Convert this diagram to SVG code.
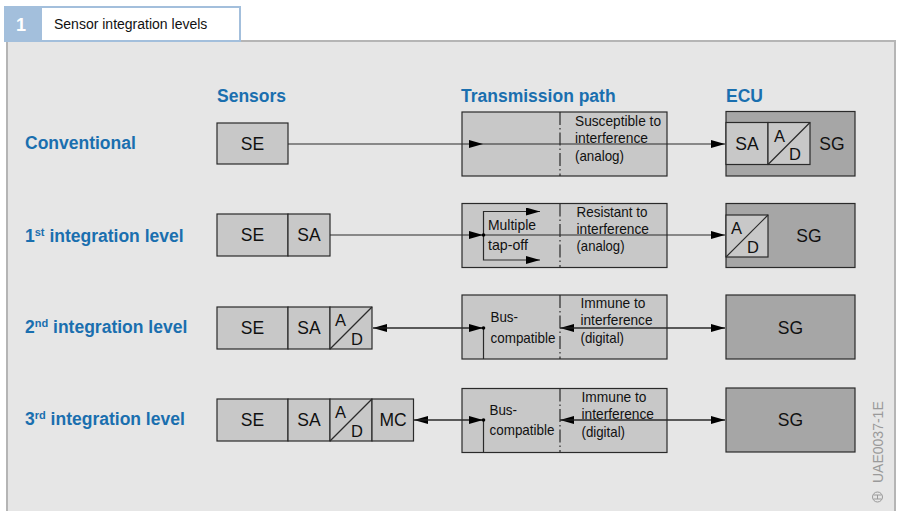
<svg xmlns="http://www.w3.org/2000/svg" width="897" height="511" viewBox="0 0 897 511">
<style>
.frame{fill:#e6e6e6;stroke:#b5b5b5;stroke-width:2}
.lt{fill:#c8c8c8;stroke:#2a2a2a;stroke-width:1.2}
.dk{fill:#a6a6a6;stroke:#2a2a2a;stroke-width:1.2}
.ln{fill:none;stroke:#2a2a2a;stroke-width:1.2}
.dd{fill:none;stroke:#2a2a2a;stroke-width:1.2;stroke-dasharray:13 3 1.5 3}
.hd{font-family:"Liberation Sans",Arial,sans-serif;font-weight:bold;font-size:17.5px;fill:#1a6faf}
.bx{font-family:"Liberation Sans",Arial,sans-serif;font-size:17.5px;fill:#111;text-anchor:middle}
.ad{font-family:"Liberation Sans",Arial,sans-serif;font-size:16.5px;fill:#111}
.cn{font-family:"Liberation Sans Narrow","Liberation Sans",Arial,sans-serif;font-size:14.5px;fill:#111}
.sup{font-size:11px}
</style>
<defs>
<marker id="arr" viewBox="0 0 14 8" refX="14" refY="4" markerWidth="14" markerHeight="8" markerUnits="userSpaceOnUse" orient="auto">
<path d="M0,0 L14,4 L0,8 z" fill="#000"/>
</marker>
</defs>

<!-- frame and header -->
<g id="frame">
<rect class="frame" x="7" y="41" width="888" height="480"/>
<rect x="4" y="6" width="36" height="36" fill="#a3bfdc"/>
<text x="21" y="31" font-family="Liberation Sans,Arial,sans-serif" font-weight="bold" font-size="18px" fill="#fff" text-anchor="middle">1</text>
<rect x="41" y="7" width="199" height="34" fill="#fff" stroke="#a3bfdc" stroke-width="2"/>
<text x="54" y="29" font-family="Liberation Sans,Arial,sans-serif" font-size="14px" fill="#111">Sensor integration levels</text>
</g>

<!-- headings -->
<g id="headings">
<text class="hd" x="217" y="102">Sensors</text>
<text class="hd" x="461" y="102">Transmission path</text>
<text class="hd" x="726" y="102">ECU</text>
<text class="hd" x="25" y="149">Conventional</text>
<text class="hd" x="25" y="241.5">1<tspan class="sup" dy="-6">st</tspan><tspan dy="6"> integration level</tspan></text>
<text class="hd" x="25" y="333">2<tspan class="sup" dy="-6">nd</tspan><tspan dy="6"> integration level</tspan></text>
<text class="hd" x="25" y="425">3<tspan class="sup" dy="-6">rd</tspan><tspan dy="6"> integration level</tspan></text>
</g>

<!-- Row 0: conventional -->
<g id="sensor0">
<rect class="lt" x="217" y="123" width="71" height="41"/>
<text class="bx" x="252.5" y="150">SE</text>
</g>
<g id="path0">
<rect class="lt" x="462" y="112" width="205" height="64"/>
<line class="dd" x1="560" y1="112" x2="560" y2="176"/>
<text class="cn" x="575" y="125.5" textLength="86" lengthAdjust="spacingAndGlyphs">Susceptible to</text>
<text class="cn" x="575" y="143" textLength="73" lengthAdjust="spacingAndGlyphs">interference</text>
<text class="cn" x="575" y="160.5" textLength="49" lengthAdjust="spacingAndGlyphs">(analog)</text>
</g>
<g id="ecu0">
<rect class="dk" x="726" y="111.5" width="129" height="64.5"/>
<rect class="lt" x="726" y="122.5" width="42" height="42"/>
<text class="bx" x="747" y="150">SA</text>
<rect class="lt" x="768" y="122.5" width="42" height="42"/>
<line class="ln" x1="768" y1="164.5" x2="810" y2="122.5"/>
<text class="ad" x="774" y="142">A</text>
<text class="ad" x="789" y="160">D</text>
<text class="bx" x="832" y="150">SG</text>
</g>

<!-- Row 1 -->
<g id="sensor1">
<rect class="lt" x="217" y="214" width="71" height="42"/>
<rect class="lt" x="288" y="214" width="42" height="42"/>
<text class="bx" x="252.5" y="241">SE</text>
<text class="bx" x="309" y="241">SA</text>
</g>
<g id="path1">
<rect class="lt" x="462" y="203.5" width="205" height="64"/>
<line class="dd" x1="560" y1="203.5" x2="560" y2="267.5"/>
<text class="cn" x="488" y="230" textLength="48" lengthAdjust="spacingAndGlyphs">Multiple</text>
<text class="cn" x="488" y="249.5" textLength="40" lengthAdjust="spacingAndGlyphs">tap-off</text>
<text class="cn" x="576.5" y="216.5" textLength="71" lengthAdjust="spacingAndGlyphs">Resistant to</text>
<text class="cn" x="576.5" y="233.5" textLength="72.5" lengthAdjust="spacingAndGlyphs">interference</text>
<text class="cn" x="576.5" y="250.5" textLength="48" lengthAdjust="spacingAndGlyphs">(analog)</text>
</g>
<g id="ecu1">
<rect class="dk" x="726" y="203.5" width="129" height="64"/>
<rect class="lt" x="726" y="215" width="42" height="42"/>
<line class="ln" x1="726" y1="257" x2="768" y2="215"/>
<text class="ad" x="731" y="234">A</text>
<text class="ad" x="747" y="252.5">D</text>
<text class="bx" x="809" y="241.5">SG</text>
</g>

<!-- Row 2 -->
<g id="sensor2">
<rect class="lt" x="217" y="307" width="71" height="42"/>
<rect class="lt" x="288" y="307" width="42" height="42"/>
<rect class="lt" x="330" y="307" width="42" height="42"/>
<line class="ln" x1="330" y1="349" x2="372" y2="307"/>
<text class="bx" x="252.5" y="334">SE</text>
<text class="bx" x="309" y="334">SA</text>
<text class="ad" x="335" y="325.5">A</text>
<text class="ad" x="351" y="345">D</text>
</g>
<g id="path2">
<rect class="lt" x="462" y="295" width="205" height="64"/>
<line class="dd" x1="560" y1="295" x2="560" y2="359"/>
<text class="cn" x="490.5" y="321.5" textLength="27.5" lengthAdjust="spacingAndGlyphs">Bus-</text>
<text class="cn" x="490.5" y="343" textLength="65" lengthAdjust="spacingAndGlyphs">compatible</text>
<text class="cn" x="580.5" y="308" textLength="65" lengthAdjust="spacingAndGlyphs">Immune to</text>
<text class="cn" x="580.5" y="325" textLength="72" lengthAdjust="spacingAndGlyphs">interference</text>
<text class="cn" x="580.5" y="343" textLength="43.5" lengthAdjust="spacingAndGlyphs">(digital)</text>
</g>
<g id="ecu2">
<rect class="dk" x="726" y="295" width="129" height="64"/>
<text class="bx" x="790.5" y="333.5">SG</text>
</g>

<!-- Row 3 -->
<g id="sensor3">
<rect class="lt" x="217" y="399" width="71" height="42"/>
<rect class="lt" x="288" y="399" width="42" height="42"/>
<rect class="lt" x="330" y="399" width="42" height="42"/>
<rect class="lt" x="372" y="399" width="41.5" height="42"/>
<line class="ln" x1="330" y1="441" x2="372" y2="399"/>
<text class="bx" x="252.5" y="426">SE</text>
<text class="bx" x="309" y="426">SA</text>
<text class="ad" x="335" y="417.5">A</text>
<text class="ad" x="351" y="437">D</text>
<text class="bx" x="393" y="426">MC</text>
</g>
<g id="path3">
<rect class="lt" x="462" y="388.5" width="205" height="64"/>
<line class="dd" x1="560" y1="388.5" x2="560" y2="452.5"/>
<text class="cn" x="489.5" y="415" textLength="27.5" lengthAdjust="spacingAndGlyphs">Bus-</text>
<text class="cn" x="489.5" y="435" textLength="65" lengthAdjust="spacingAndGlyphs">compatible</text>
<text class="cn" x="581.5" y="401.5" textLength="65" lengthAdjust="spacingAndGlyphs">Immune to</text>
<text class="cn" x="581.5" y="418.5" textLength="72.5" lengthAdjust="spacingAndGlyphs">interference</text>
<text class="cn" x="581.5" y="436.5" textLength="43.5" lengthAdjust="spacingAndGlyphs">(digital)</text>
</g>
<g id="ecu3">
<rect class="dk" x="726" y="388" width="129" height="64"/>
<text class="bx" x="790.5" y="426">SG</text>
</g>

<!-- connectors -->
<g id="connectors">
<line class="ln" x1="288" y1="144" x2="483" y2="144" marker-end="url(#arr)"/>
<line class="ln" x1="483" y1="144" x2="725" y2="144" marker-end="url(#arr)"/>

<line class="ln" x1="330" y1="235" x2="483" y2="235" marker-end="url(#arr)"/>
<line class="ln" x1="483" y1="235" x2="725" y2="235" marker-end="url(#arr)"/>
<path class="ln" d="M483.5,235 V211.5 H540" marker-end="url(#arr)"/>
<path class="ln" d="M483.5,235 V260 H540" marker-end="url(#arr)"/>
<circle cx="483.5" cy="235" r="1.8" fill="#000"/>

<line class="ln" x1="483" y1="328" x2="373" y2="328" marker-end="url(#arr)"/>
<line class="ln" x1="373" y1="328" x2="483" y2="328" marker-end="url(#arr)"/>
<line class="ln" x1="725" y1="328" x2="560" y2="328" marker-end="url(#arr)"/>
<line class="ln" x1="560" y1="328" x2="725" y2="328" marker-end="url(#arr)"/>
<line class="ln" x1="483.5" y1="328" x2="483.5" y2="359"/>
<circle cx="483.5" cy="328" r="1.8" fill="#000"/>

<line class="ln" x1="483" y1="420" x2="414" y2="420" marker-end="url(#arr)"/>
<line class="ln" x1="414" y1="420" x2="483" y2="420" marker-end="url(#arr)"/>
<line class="ln" x1="725" y1="420" x2="560" y2="420" marker-end="url(#arr)"/>
<line class="ln" x1="560" y1="420" x2="725" y2="420" marker-end="url(#arr)"/>
<line class="ln" x1="483.5" y1="420" x2="483.5" y2="452.5"/>
<circle cx="483.5" cy="420" r="1.8" fill="#000"/>
</g>

<!-- watermark -->
<g id="watermark" fill="none" stroke="#9a9a9a" stroke-width="1">
<text transform="translate(883,483) rotate(-90)" font-family="Liberation Sans,Arial,sans-serif" font-size="14px" fill="#9a9a9a" stroke="none">UAE0037-1E</text>
<circle cx="877.5" cy="497" r="5"/>
<line x1="873.5" y1="495" x2="881.5" y2="495"/>
<line x1="873.5" y1="499" x2="881.5" y2="499"/>
<line x1="877.5" y1="495" x2="877.5" y2="499"/>
</g>
</svg>
